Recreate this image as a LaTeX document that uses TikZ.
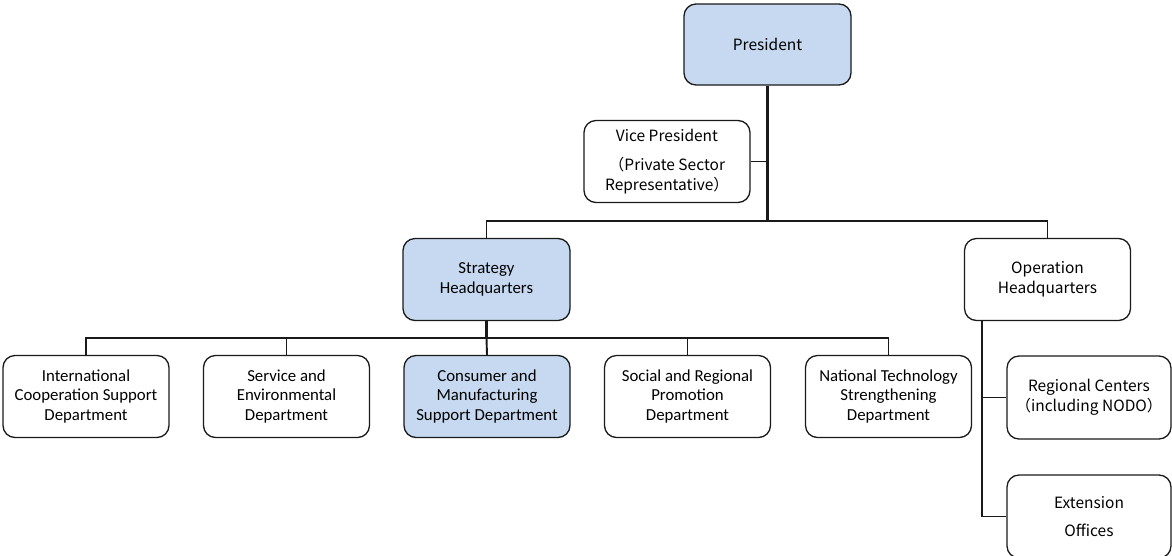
\documentclass[tikz,border=0pt]{standalone}
\usepackage{fontspec}
\setmainfont{Carlito}
\newfontfamily\jpfont{Noto Sans CJK JP}
\definecolor{boxblue}{HTML}{C6D9F1}
\definecolor{edge}{HTML}{1A1A1A}
\begin{document}
\begin{tikzpicture}[x=1pt,y=-1pt,
  unit/.style={draw=edge, line width=1.3pt, rounded corners=12pt,
    minimum width=166pt, minimum height=82pt, align=center, inner sep=0pt,
    font=\fontsize{16.8}{19.5}\selectfont},
  jp/.style={font=\jpfont\fontsize{15.5}{19.5}\selectfont},
  hilite/.style={fill=boxblue},
  link/.style={draw=edge, line width=1.3pt},
  trunk/.style={draw=edge, line width=2.4pt},
  branch/.style={draw=edge, line width=1.9pt}]
\useasboundingbox (0,0) rectangle (1172,555);

% top level
\node[unit, jp, hilite, minimum width=167pt, minimum height=81pt] (pres) at (767.5,44.5) {President};
\node[unit, jp] (vp) at (667,161.5) {Vice President\\[10pt]（Private Sector\\Representative）};

% headquarters
\node[unit, hilite, minimum width=167pt] (strat) at (486.5,279.5) {Strategy\\Headquarters};
\node[unit, jp] (ops) at (1047.5,279.5) {Operation\\Headquarters};

% departments
\node[unit] (d1) at (86,396.5) {International\\Cooperation Support\\Department};
\node[unit] (d2) at (286.5,396.5) {Service and\\Environmental\\Department};
\node[unit, hilite] (d3) at (487,396.5) {Consumer and\\Manufacturing\\Support Department};
\node[unit] (d4) at (687.5,396.5) {Social and Regional\\Promotion\\Department};
\node[unit] (d5) at (888.5,396.5) {National Technology\\Strengthening\\Department};

% field offices
\node[unit, jp, minimum width=164pt, minimum height=83pt] (reg) at (1089,397.5) {Regional Centers\\（including NODO）};
\node[unit, jp, minimum width=164pt, minimum height=83pt] (ext) at (1089,516.5) {Extension\\[8pt]Offices};

% junctions
\coordinate (j1) at (767.5,221);
\coordinate (j2) at (486.5,338);
\coordinate (j3) at ([xshift=18pt]ops.south west);

% connectors
\path[trunk] (pres.south) -- (j1);
\path[link] (vp.east) -- (vp.east -| j1);
\path[link] (strat.north) |- (j1) -| (ops.north);
\path[trunk] (strat.south) -- (j2);
\path[branch] (j2) -- (d3.north);
\path[link] (d1.north) |- (j2) -| (d5.north);
\path[link] (d2.north) |- (j2);
\path[link] (d4.north) |- (j2);
\path[branch] (j3) |- (ext.west);
\path[link] (reg.west) -- (reg.west -| j3);
\end{tikzpicture}
\end{document}
